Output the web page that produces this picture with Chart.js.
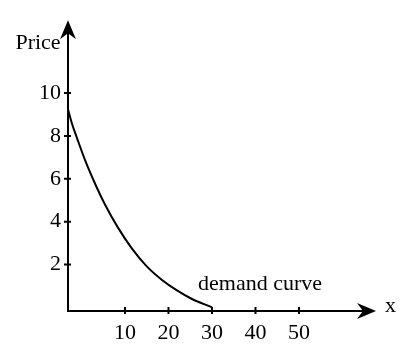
<!DOCTYPE html>
<html>
<head>
<meta charset="utf-8">
<script src="https://cdn.jsdelivr.net/npm/chart.js@4.4.1/dist/chart.umd.min.js"></script>
<style>
  html, body { margin: 0; padding: 0; background: #fff; }
  #wrap { width: 420px; height: 357px; position: relative; }
</style>
</head>
<body>
<div id="wrap"><canvas id="c" width="420" height="357"></canvas></div>
<script>
// Demand curve (quantity x, price)
const quantity = [-3.1, -2.18, -1.03, 0.8, 3.1, 5.4, 8.39, 11.61, 15.06, 18.51, 21.95, 25.4, 30];
const price    = [9.24, 8.57, 7.9, 6.88, 5.78, 4.8, 3.72, 2.74, 1.90, 1.28, 0.79, 0.39, 0.0];
const xTicks = [10, 20, 30, 40, 50];
const yTicks = [2, 4, 6, 8, 10];
const yTitle = 'Price';
const xTitle = 'x';
const curveLabel = 'demand curve';

const FONT = '"Liberation Serif", "Times New Roman", serif';

const points = quantity.map((q, i) => ({ x: q, y: price[i] }));

function arrow(ctx, tipX, tipY, dir) {
  const L = 19, W = 8, notch = 6;
  ctx.beginPath();
  if (dir === 'up') {
    ctx.moveTo(tipX, tipY);
    ctx.lineTo(tipX + W, tipY + L);
    ctx.lineTo(tipX, tipY + L - notch);
    ctx.lineTo(tipX - W, tipY + L);
  } else {
    ctx.moveTo(tipX, tipY);
    ctx.lineTo(tipX - L, tipY - W);
    ctx.lineTo(tipX - L + notch, tipY);
    ctx.lineTo(tipX - L, tipY + W);
  }
  ctx.closePath();
  ctx.fill();
}

const axesPlugin = {
  id: 'axesPlugin',
  afterDraw(chart) {
    const ctx = chart.ctx;
    const a = chart.chartArea;
    const xs = chart.scales.x, ys = chart.scales.y;
    ctx.save();
    ctx.strokeStyle = '#000';
    ctx.fillStyle = '#000';
    ctx.lineWidth = 2;
    ctx.beginPath();
    ctx.moveTo(a.left, a.top + 10);
    ctx.lineTo(a.left, a.bottom);
    ctx.lineTo(a.right - 10, a.bottom);
    ctx.stroke();
    arrow(ctx, a.left, a.top, 'up');
    arrow(ctx, a.right, a.bottom, 'right');
    ctx.beginPath();
    xTicks.forEach(v => {
      const px = xs.getPixelForValue(v);
      ctx.moveTo(px, a.bottom - 4);
      ctx.lineTo(px, a.bottom + 3);
    });
    yTicks.forEach(v => {
      const py = ys.getPixelForValue(v);
      ctx.moveTo(a.left - 4, py);
      ctx.lineTo(a.left + 3, py);
    });
    ctx.stroke();
    ctx.font = '22px ' + FONT;
    ctx.textBaseline = 'alphabetic';
    ctx.textAlign = 'center';
    ctx.fillText(yTitle, a.left - 30, 49);
    ctx.textAlign = 'left';
    ctx.fillText(xTitle, a.right + 9, a.bottom + 1);
    ctx.fillText(curveLabel, 198, 290);
    ctx.restore();
  }
};

new Chart(document.getElementById('c'), {
  type: 'scatter',
  data: {
    datasets: [{
      data: points,
      showLine: true,
      borderColor: '#000',
      borderWidth: 2,
      pointRadius: 0,
      fill: false,
      cubicInterpolationMode: 'monotone'
    }]
  },
  options: {
    responsive: false,
    animation: false,
    devicePixelRatio: 1,
    layout: { padding: { top: 17, right: 44, left: 0, bottom: 0 } },
    plugins: { legend: { display: false }, tooltip: { enabled: false } },
    scales: {
      x: {
        type: 'linear',
        min: -3.1, max: 67.7,
        grid: { display: false, drawTicks: false },
        border: { display: false },
        afterBuildTicks: s => { s.ticks = xTicks.map(v => ({ value: v })); },
        afterFit: s => { s.height = 46; },
        ticks: { color: '#000', font: { family: FONT, size: 22 }, padding: 9, maxRotation: 0, autoSkip: false }
      },
      y: {
        type: 'linear',
        min: -0.17, max: 13.4,
        grid: { display: false, drawTicks: false },
        border: { display: false },
        afterBuildTicks: s => { s.ticks = yTicks.map(v => ({ value: v })); },
        afterFit: s => { s.width = 68; },
        ticks: { color: '#000', font: { family: FONT, size: 22 }, padding: 7, autoSkip: false }
      }
    }
  },
  plugins: [axesPlugin]
});
</script>
</body>
</html>
